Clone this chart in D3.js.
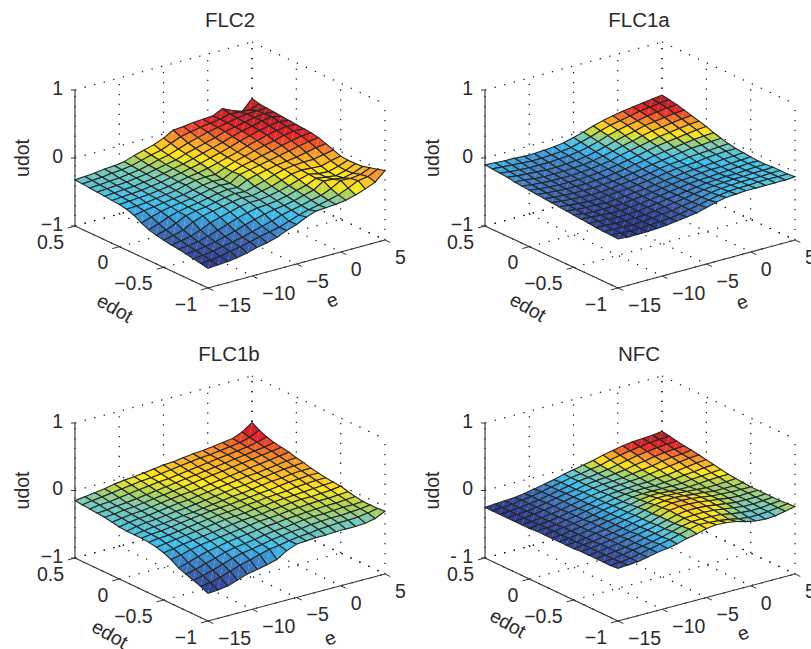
<!DOCTYPE html>
<html>
<head>
<meta charset="utf-8">
<script src="https://cdn.jsdelivr.net/npm/d3@7"></script>
<style>
body { margin: 0; background: #fff; }
text { font-family: "Liberation Sans", Arial, sans-serif; fill: #2d2a2b; font-size: 19.5px; }
</style>
</head>
<body>
<div id="chart"></div>
<script>
var eTicks = [-15, -10, -5, 0, 5];
var edotTicks = [0.5, 0, -0.5, -1];
var zTicks = [-1, 0, 1];
var eGrid = [-15,-13.89,-12.78,-11.67,-10.56,-9.44,-8.33,-7.22,-6.11,-5,-3.89,-2.78,-1.67,-0.56,0.56,1.67,2.78,3.89,5];
var edotGrid = [0.5,0.417,0.333,0.25,0.167,0.083,0,-0.083,-0.167,-0.25,-0.333,-0.417,-0.5,-0.583,-0.667,-0.75,-0.833,-0.917,-1];

// udot x 100, rows run along edotGrid, columns along eGrid
var flc2 = [
[-32,-31,-30,-28,-27,-25,-20,-16,-12,-6,2,3,5,6,7,14,7,2,17],
[-33,-32,-31,-29,-28,-26,-22,-18,-15,-9,-3,0,3,5,7,11,10,9,14],
[-34,-33,-32,-31,-29,-27,-24,-20,-17,-12,-7,-3,1,4,7,10,12,13,13],
[-35,-34,-33,-32,-30,-28,-25,-22,-19,-14,-10,-6,-2,3,6,9,12,14,12],
[-36,-35,-34,-33,-31,-29,-26,-23,-20,-16,-12,-8,-4,1,5,8,12,14,11],
[-37,-36,-35,-34,-32,-30,-27,-24,-21,-18,-14,-10,-6,-1,3,7,10,12,10],
[-38,-37,-36,-35,-33,-31,-28,-25,-23,-20,-16,-12,-8,-3,1,5,8,10,9],
[-40,-39,-38,-36,-34,-32,-28,-25,-24,-24,-18,-13,-9,-5,-1,2,6,8,8],
[-44,-41,-39,-37,-35,-33,-30,-27,-25,-26,-19,-14,-11,-7,-4,0,3,6,7],
[-50,-45,-41,-38,-36,-34,-31,-28,-26,-27,-18,-15,-12,-9,-6,-3,0,3,5],
[-55,-50,-44,-40,-37,-35,-32,-29,-27,-28,-21,-17,-14,-11,-9,-7,-4,-1,1],
[-58,-54,-48,-41,-38,-36,-33,-30,-28,-29,-25,-21,-16,-12,-10,-9,-9,-6,-3],
[-60,-57,-53,-45,-40,-37,-34,-31,-29,-30,-27,-24,-19,-14,-12,-13,-14,-10,-7],
[-62,-60,-57,-52,-45,-41,-37,-33,-31,-31,-29,-26,-22,-17,-13,-16,-17,-13,-8],
[-63,-62,-60,-56,-51,-46,-41,-37,-34,-33,-31,-28,-24,-20,-14,-16,-18,-14,-8],
[-65,-64,-62,-59,-55,-51,-46,-42,-38,-35,-33,-30,-26,-22,-13,-14,-16,-13,-7],
[-67,-66,-64,-61,-58,-55,-51,-47,-43,-38,-35,-32,-28,-25,-19,-11,-12,-10,-4],
[-69,-68,-66,-63,-60,-57,-53,-50,-47,-42,-37,-33,-30,-27,-23,-17,-10,-8,-1],
[-71,-70,-69,-67,-64,-60,-57,-53,-47,-42,-35,-30,-29,-28,-26,-22,-17,-11,2]
];
var flc1a = [
[-10,-11,-12,-12,-13,-13,-12,-11,-9,-5,-1,4,8,11,14,16,18,20,22],
[-11,-12,-13,-14,-15,-15,-14,-13,-11,-7,-3,2,6,9,12,15,17,19,20],
[-12,-14,-15,-16,-16,-16,-15,-14,-12,-9,-5,0,4,7,10,13,15,17,18],
[-13,-15,-16,-17,-18,-18,-17,-16,-14,-11,-7,-3,1,4,8,10,12,14,15],
[-15,-16,-18,-19,-19,-19,-18,-17,-15,-12,-9,-5,-2,2,5,7,9,11,12],
[-16,-18,-19,-20,-20,-20,-19,-18,-16,-14,-10,-7,-4,-1,2,4,6,8,9],
[-17,-19,-20,-21,-21,-21,-20,-19,-17,-15,-12,-9,-6,-3,-1,1,3,5,6],
[-18,-20,-21,-22,-22,-22,-21,-20,-18,-16,-13,-11,-8,-6,-4,-2,0,1,2],
[-19,-21,-22,-23,-23,-23,-22,-21,-19,-17,-15,-12,-10,-8,-6,-4,-3,-2,-1],
[-20,-22,-23,-24,-24,-24,-23,-21,-20,-18,-16,-13,-11,-10,-8,-7,-6,-5,-4],
[-21,-23,-24,-25,-25,-24,-23,-22,-20,-18,-16,-14,-12,-11,-10,-8,-7,-6,-6],
[-22,-24,-25,-25,-26,-25,-24,-22,-21,-19,-17,-15,-13,-12,-11,-10,-9,-8,-7],
[-23,-25,-26,-26,-26,-26,-24,-23,-21,-19,-17,-15,-14,-12,-11,-11,-10,-9,-8],
[-24,-25,-26,-27,-27,-26,-25,-23,-21,-19,-17,-15,-14,-13,-12,-11,-10,-9,-9],
[-25,-26,-27,-28,-27,-27,-25,-23,-21,-19,-17,-15,-13,-12,-11,-11,-10,-9,-9],
[-26,-27,-28,-28,-28,-27,-25,-23,-21,-19,-16,-14,-12,-11,-10,-10,-9,-9,-8],
[-27,-28,-28,-29,-28,-27,-25,-24,-21,-19,-16,-13,-11,-10,-9,-9,-9,-8,-8],
[-27,-28,-29,-29,-28,-27,-26,-24,-21,-18,-15,-12,-10,-9,-9,-8,-8,-8,-8],
[-28,-29,-29,-29,-28,-27,-25,-23,-21,-17,-13,-10,-9,-8,-8,-8,-8,-8,-7]
];
var flc1b = [
[-15,-13,-11,-9,-6,-4,-3,-1,1,3,4,6,8,9,11,13,15,21,31],
[-16,-14,-12,-10,-8,-6,-4,-3,-1,1,3,5,7,8,10,12,14,18,25],
[-17,-15,-14,-12,-10,-8,-6,-4,-3,-1,1,3,5,7,9,11,13,16,20],
[-18,-17,-15,-14,-12,-10,-8,-6,-4,-2,0,2,4,6,8,10,12,14,17],
[-19,-18,-16,-15,-13,-11,-9,-7,-5,-3,-1,1,3,5,7,9,11,13,15],
[-21,-19,-17,-16,-14,-12,-10,-8,-7,-5,-3,-1,1,3,5,7,9,11,13],
[-23,-20,-18,-17,-15,-13,-11,-10,-8,-6,-4,-2,0,2,3,5,7,9,10],
[-24,-21,-19,-18,-16,-14,-13,-11,-9,-7,-5,-3,-2,0,2,4,6,7,8],
[-24,-22,-20,-19,-17,-15,-14,-12,-10,-8,-6,-5,-3,-1,1,2,4,5,5],
[-24,-22,-21,-19,-17,-15,-13,-11,-10,-9,-7,-6,-4,-3,-1,1,2,3,3],
[-25,-23,-22,-20,-18,-16,-14,-12,-11,-10,-8,-7,-5,-4,-3,-1,0,1,1],
[-27,-25,-23,-21,-19,-17,-15,-13,-12,-11,-9,-8,-6,-5,-4,-3,-2,-1,0],
[-30,-28,-25,-23,-21,-19,-17,-15,-13,-12,-11,-9,-8,-6,-5,-5,-4,-3,-1],
[-35,-32,-28,-25,-23,-21,-19,-17,-15,-13,-12,-11,-9,-8,-7,-6,-6,-5,-4],
[-42,-38,-33,-29,-26,-23,-21,-19,-17,-15,-14,-12,-11,-10,-9,-8,-8,-7,-6],
[-46,-43,-38,-34,-29,-26,-24,-22,-19,-17,-16,-14,-12,-11,-11,-10,-9,-9,-8],
[-50,-47,-43,-38,-33,-29,-27,-24,-21,-19,-17,-16,-14,-13,-12,-12,-11,-10,-8],
[-54,-52,-48,-43,-38,-34,-30,-26,-24,-21,-19,-18,-16,-15,-14,-14,-13,-11,-8],
[-59,-58,-56,-51,-46,-43,-40,-36,-27,-21,-20,-19,-19,-18,-18,-18,-17,-14,-7]
];
var nfc = [
[-25,-24,-23,-22,-20,-17,-14,-11,-7,-4,-1,2,6,9,12,14,15,16,18],
[-25,-24,-23,-21,-19,-16,-13,-10,-7,-5,-2,0,4,7,10,12,14,15,16],
[-25,-24,-23,-21,-19,-16,-13,-10,-7,-5,-3,-1,2,5,8,10,12,13,14],
[-25,-24,-23,-21,-18,-15,-12,-10,-7,-5,-4,-2,0,3,5,8,10,11,12],
[-25,-24,-22,-20,-18,-15,-12,-9,-7,-5,-4,-3,-1,1,3,6,8,9,11],
[-25,-24,-22,-20,-18,-15,-12,-9,-7,-5,-4,-3,-2,0,2,4,6,8,9],
[-25,-23,-22,-20,-17,-15,-12,-9,-6,-5,-4,-3,-3,-1,0,2,4,6,7],
[-24,-23,-22,-19,-17,-14,-11,-9,-6,-4,-3,-3,-3,-2,-1,1,2,4,5],
[-24,-23,-21,-19,-17,-14,-11,-8,-6,-3,-2,-2,-2,-2,-2,0,1,2,3],
[-24,-23,-21,-19,-16,-14,-11,-8,-5,-2,0,0,-1,-2,-2,-1,0,1,1],
[-24,-23,-21,-19,-16,-13,-11,-8,-4,-1,2,2,1,0,-1,-2,-2,-1,0],
[-24,-23,-21,-18,-16,-13,-10,-7,-3,1,3,4,3,1,0,-2,-2,-2,-1],
[-24,-22,-21,-18,-16,-13,-10,-7,-3,2,5,5,4,2,0,-1,-2,-2,-2],
[-23,-22,-20,-18,-16,-13,-10,-7,-2,3,5,5,4,2,0,-2,-3,-2,-2],
[-23,-22,-20,-18,-15,-12,-9,-6,-2,2,4,4,3,1,-1,-3,-3,-3,-2],
[-23,-22,-20,-18,-15,-12,-9,-6,-2,2,3,3,2,0,-2,-4,-4,-3,-2],
[-23,-22,-20,-17,-15,-12,-9,-5,-1,2,2,2,1,-2,-4,-5,-5,-3,-2],
[-23,-22,-20,-17,-14,-11,-8,-4,0,3,2,1,-1,-4,-6,-6,-5,-3,-1],
[-22,-21,-20,-17,-14,-12,-9,-5,-2,2,4,3,1,-3,-6,-7,-6,-3,0]
];

var titles = ["FLC2", "FLC1a", "FLC1b", "NFC"];
var surfaces = [flc2, flc1a, flc1b, nfc];
var zLabels = [["\u22121", "0", "1"], ["\u22121", "0", "1"], ["\u22121", "0", "1"], ["- 1", "0", "1"]];

var jetStops = [0, 0.125, 0.25, 0.375, 0.5, 0.56, 0.625, 0.75, 0.875, 1];
var jetColors = ["#2b3990", "#3a5ca9", "#3d84c8", "#3bbdee", "#7ecbae", "#b0d350", "#ffe81a", "#f99b28", "#ed2228", "#a31f24"];

var svg = d3.select("#chart").append("svg").attr("width", 811).attr("height", 649);

// floor corners of one box: left (e -15, edot 0.5), front (e -15, edot -1), right (e 5, edot -1)
var boxes = [
	{ dx: 0, top: 90, left: 226, front: 288, right: 240, edotLab: [115, 308], eLab: [332, 300], title: 230, titleY: 20 },
	{ dx: 410, top: 90, left: 226, front: 288, right: 240, edotLab: [118, 307], eLab: [332, 302], title: 229, titleY: 20 },
	{ dx: 0, top: 423, left: 558, front: 621, right: 574, edotLab: [110, 634], eLab: [330, 638], title: 229, titleY: 354 },
	{ dx: 410, top: 423, left: 558, front: 621, right: 574, edotLab: [98, 623], eLab: [333, 633], title: 229, titleY: 354 }
];
var xLeft = 75, xFront = 208, xRight = 385;

var eScale = d3.scaleLinear().domain([-15, 5]).range([0, 1]);
var edotScale = d3.scaleLinear().domain([0.5, -1]).range([0, 1]);

function drawPanel(box, title, grid, zLab) {
	var g = svg.append("g").attr("transform", "translate(" + box.dx + ",0)");
	var zScale = d3.scaleLinear().domain([-1, 1]).range([0, box.top - box.left]);

	function project(e, edot, z) {
		var t = eScale(e), u = edotScale(edot);
		return [
			xLeft + t * (xRight - xFront) + u * (xFront - xLeft),
			box.left + t * (box.right - box.front) + u * (box.front - box.left) + zScale(z)
		];
	}
	function line(a, b, col, w, dash) {
		var l = g.append("line")
			.attr("x1", a[0]).attr("y1", a[1])
			.attr("x2", b[0]).attr("y2", b[1])
			.attr("stroke", col)
			.attr("stroke-width", w);
		if (dash) l.attr("stroke-dasharray", dash);
		return l;
	}

	// dotted grid on floor and the two back walls
	var dots = "1.3 8.6";
	eTicks.forEach(function (e) {
		line(project(e, 0.5, -1), project(e, -1, -1), "#111", 1.2, dots);
		line(project(e, 0.5, -1), project(e, 0.5, 1), "#111", 1.2, dots);
	});
	edotTicks.forEach(function (d) {
		line(project(-15, d, -1), project(5, d, -1), "#111", 1.2, dots);
		line(project(5, d, -1), project(5, d, 1), "#111", 1.2, dots);
	});
	zTicks.forEach(function (z) {
		line(project(-15, 0.5, z), project(5, 0.5, z), "#111", 1.2, dots);
		line(project(5, 0.5, z), project(5, -1, z), "#111", 1.2, dots);
	});

	// solid axes and ticks
	line(project(-15, 0.5, -1), project(-15, 0.5, 1), "#333", 1.1);
	line(project(-15, 0.5, -1), project(-15, -1, -1), "#333", 1.1);
	line(project(-15, -1, -1), project(5, -1, -1), "#333", 1.1);
	zTicks.forEach(function (z, i) {
		var p = project(-15, 0.5, z);
		line(p, [p[0] - 4, p[1]], "#333", 1);
		g.append("text").attr("x", p[0] - 12).attr("y", p[1] - 2).attr("dy", ".35em")
			.attr("text-anchor", "end").text(zLab[i]);
	});
	edotTicks.forEach(function (d) {
		var p = project(-15, d, -1), q = project(-15.8, d, -1);
		line(p, q, "#333", 1);
		g.append("text").attr("x", p[0] - 11).attr("y", p[1] + 16).attr("dy", ".35em")
			.attr("text-anchor", "end").text(String(d).replace("-", "\u2212"));
	});
	eTicks.forEach(function (e) {
		var p = project(e, -1, -1), q = project(e, -1.06, -1);
		line(p, q, "#333", 1);
		g.append("text").attr("x", p[0] + 10).attr("y", p[1] + 17).attr("dy", ".35em")
			.attr("text-anchor", "start").text(String(e).replace("-", "\u2212"));
	});

	// surface, painted from the back corner forward
	var flat = d3.merge(grid);
	var color = d3.scaleLinear()
		.domain(jetStops.map(function (s) { return d3.min(flat) + s * (d3.max(flat) - d3.min(flat)); }))
		.range(jetColors)
		.interpolate(d3.interpolateRgb);
	var path = d3.line();
	for (var r = 0; r < edotGrid.length - 1; r++) {
		for (var c = eGrid.length - 2; c >= 0; c--) {
			var a = project(eGrid[c], edotGrid[r], grid[r][c] / 100);
			var b = project(eGrid[c + 1], edotGrid[r], grid[r][c + 1] / 100);
			var e2 = project(eGrid[c + 1], edotGrid[r + 1], grid[r + 1][c + 1] / 100);
			var d2 = project(eGrid[c], edotGrid[r + 1], grid[r + 1][c] / 100);
			var col = color((grid[r][c] + grid[r][c + 1] + grid[r + 1][c + 1] + grid[r + 1][c]) / 4);
			g.append("path").attr("d", path([a, b, d2]) + "Z").attr("fill", col);
			g.append("path").attr("d", path([b, e2, d2]) + "Z").attr("fill", col);
			g.append("path").attr("d", path([a, b, e2, d2]) + "Z")
				.attr("fill", "none").attr("stroke", "#262626").attr("stroke-width", 1.1);
		}
	}

	g.append("text").attr("x", box.title).attr("y", box.titleY).attr("dy", ".35em")
		.attr("text-anchor", "middle").style("font-size", "20.5px").text(title);
	g.append("text").attr("text-anchor", "middle").attr("dy", ".35em")
		.attr("transform", "translate(22," + (box.top + box.left) / 2 + ") rotate(-90)").text("udot");
	g.append("text").attr("text-anchor", "middle").attr("dy", ".35em")
		.attr("transform", "translate(" + box.edotLab[0] + "," + box.edotLab[1] + ") rotate(30)").text("edot");
	g.append("text").attr("text-anchor", "middle").attr("dy", ".35em")
		.attr("transform", "translate(" + box.eLab[0] + "," + box.eLab[1] + ") rotate(-22)").text("e");
}

boxes.forEach(function (box, i) {
	drawPanel(box, titles[i], surfaces[i], zLabels[i]);
});
</script>
</body>
</html>
